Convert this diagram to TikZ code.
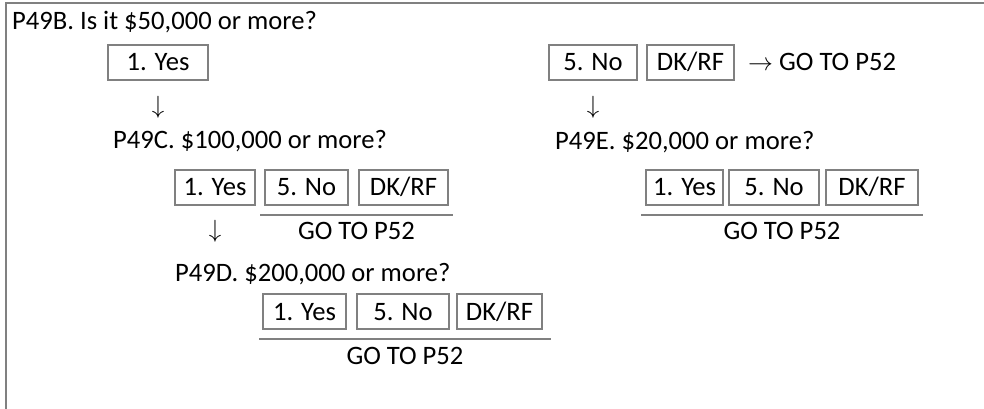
\documentclass[tikz,border=0pt]{standalone}
\usepackage{fontspec}
\setmainfont{Carlito}
\usetikzlibrary{positioning}
\definecolor{rulegray}{HTML}{808080}

\begin{document}
\begin{tikzpicture}[x=1pt, y=-1pt, inner sep=0pt, font=\fontsize{26.6}{32}\selectfont,
    opt/.style={draw=rulegray, line width=2pt, rectangle, minimum height=35pt, text height=17pt, text depth=0pt},
    goto/.style={text height=17pt, text depth=0pt},
    down/.style={font=\fontsize{24}{28}\selectfont},
    rule/.style={draw=rulegray, line width=2pt}]
        \useasboundingbox (0,0) rectangle (984,409);
        \draw[rule] (984,3) -- (6,3) -- (6,409);

        % P49B
        \node[anchor=base west] (qB) at (12,30) {P49B. Is it \$50,000 or more?};
        \node[opt, minimum width=100pt] (bYes) at (158,62.5) {1. Yes};
        \node[opt, minimum width=88pt] (bNo) at (593,62.5) {5. No};
        \node[opt, minimum width=87pt, right=8pt of bNo] (bDk) {DK/RF};
        \node[goto, right=13pt of bDk] (bGo) {$\rightarrow$ GO TO P52};
        \node[down, below=15pt of bYes] (bYesDown) {$\downarrow$};
        \node[down, below=15pt of bNo] (bNoDown) {$\downarrow$};

        % P49C
        \node[anchor=base west] (qC) at (113,148) {P49C. \$100,000 or more?};
        \node[opt, minimum width=80pt] (cYes) at (215,187) {1. Yes};
        \node[opt, minimum width=83pt, right=8pt of cYes] (cNo) {5. No};
        \node[opt, minimum width=89pt, right=9pt of cNo] (cDk) {DK/RF};
        \node[down, below=15pt of cYes] (cYesDown) {$\downarrow$};
        \draw[rule] ([xshift=-4pt, yshift=-9pt]cNo.south west) -- ([xshift=4pt, yshift=-9pt]cDk.south east)
            node[goto, midway, below=7pt] (cGo) {GO TO P52};

        % P49D
        \node[anchor=base west] (qD) at (175,281) {P49D. \$200,000 or more?};
        \node[opt, minimum width=83pt] (dYes) at (304.5,311.5) {1. Yes};
        \node[opt, minimum width=92pt, right=9pt of dYes] (dNo) {5. No};
        \node[opt, minimum width=85pt, right=6pt of dNo] (dDk) {DK/RF};
        \draw[rule] ([xshift=-3pt, yshift=-9pt]dYes.south west) -- ([xshift=8pt, yshift=-9pt]dDk.south east)
            node[goto, midway, below=7pt] (dGo) {GO TO P52};

        % P49E
        \node[anchor=base west] (qE) at (555,149) {P49E. \$20,000 or more?};
        \node[opt, minimum width=77pt] (eYes) at (684.5,187) {1. Yes};
        \node[opt, minimum width=90pt, right=4pt of eYes] (eNo) {5. No};
        \node[opt, minimum width=92pt, right=5pt of eNo] (eDk) {DK/RF};
        \draw[rule] ([xshift=-4pt, yshift=-9pt]eYes.south west) -- ([xshift=4pt, yshift=-9pt]eDk.south east)
            node[goto, midway, below=7pt] (eGo) {GO TO P52};
    \end{tikzpicture}
\end{document}
